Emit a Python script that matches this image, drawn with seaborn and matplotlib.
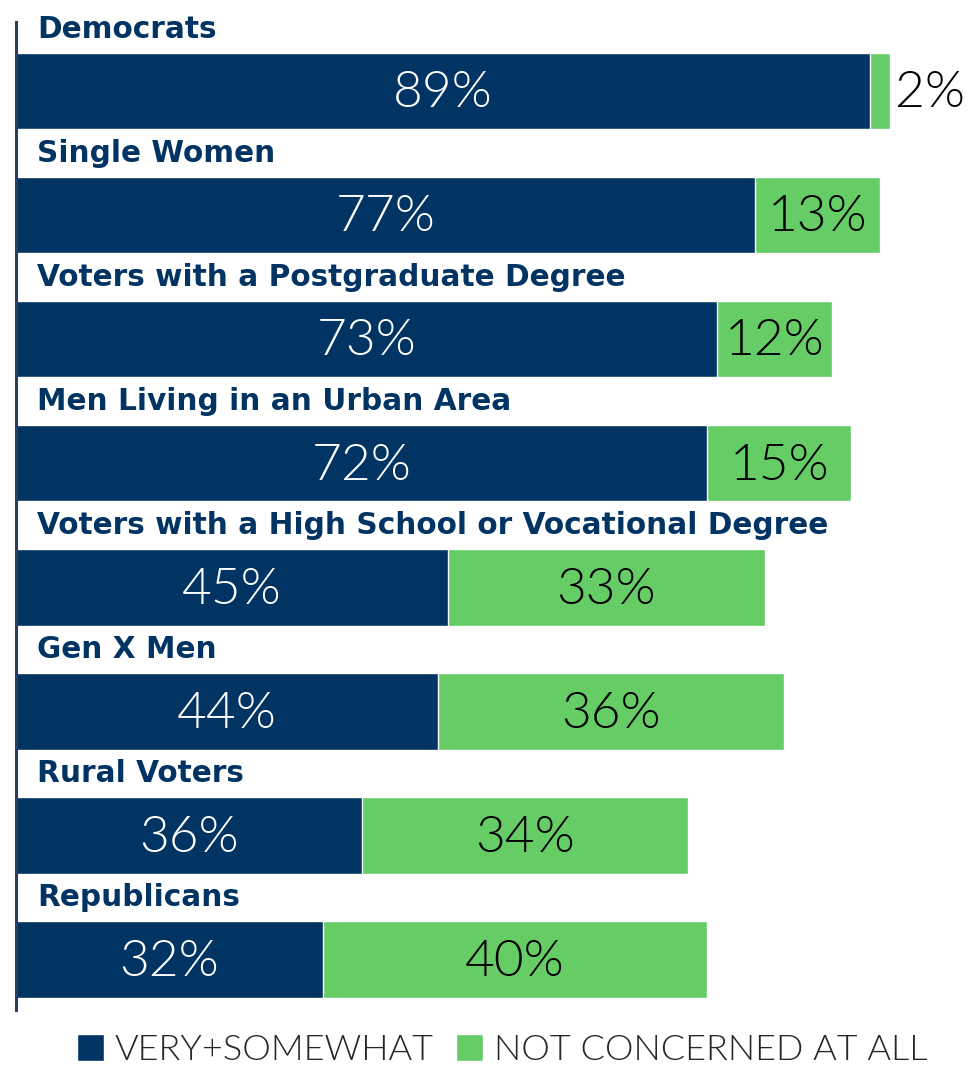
import matplotlib
matplotlib.use("Agg")
import matplotlib.pyplot as plt
import seaborn as sns
from matplotlib.patches import Patch

# ── data ────────────────────────────────────────────────────
groups = ["Democrats", "Single Women", "Voters with a Postgraduate Degree",
          "Men Living in an Urban Area",
          "Voters with a High School or Vocational Degree",
          "Gen X Men", "Rural Voters", "Republicans"]
very_somewhat = [89, 77, 73, 72, 45, 44, 36, 32]
not_concerned = [2, 13, 12, 15, 33, 36, 34, 40]
series_names = ["VERY+SOMEWHAT", "NOT CONCERNED AT ALL"]

NAVY = "#013462"
GREEN = "#66CC66"
FONT = "Lato"
VAL_WEIGHT = 300

sns.set_style("white")
plt.rcParams["font.family"] = [FONT, "DejaVu Sans"]

totals = [a + b for a, b in zip(very_somewhat, not_concerned)]

fig = plt.figure(figsize=(9.71, 10.65), dpi=100)
ax = fig.add_axes([16 / 971, 1 - 1010 / 1065, 1 - 16 / 971, (1010 - 22) / 1065])

# green = full stack, navy drawn over it
sns.barplot(x=totals, y=groups, color=GREEN, orient="h", width=0.62,
            saturation=1, errorbar=None, ax=ax)
sns.barplot(x=very_somewhat, y=groups, color=NAVY, orient="h", width=0.62,
            saturation=1, errorbar=None, ax=ax)

ax.set_xlim(0, 955 / 9.6)
ax.set_ylim(7.41, -0.556)
ax.set_xticks([])
ax.set_yticks([])
ax.set_xlabel("")
ax.set_ylabel("")
for s in ["top", "right", "bottom"]:
    ax.spines[s].set_visible(False)
ax.spines["left"].set_color("#2b3f5c")
ax.spines["left"].set_linewidth(2.2)

# labels
for i, g in enumerate(groups):
    ax.text(2.2, i - 0.425, g, ha="left", va="baseline", fontsize=21.3,
            fontweight="bold", color=NAVY, family="DejaVu Sans")
    v, n = very_somewhat[i], not_concerned[i]
    ax.text(v / 2, i + 0.02, f"{v}%", ha="center", va="center", fontsize=37,
            color="white", fontweight=VAL_WEIGHT)
    if n < 5:
        ax.text(v + n + 0.6, i + 0.02, f"{n}%", ha="left", va="center", fontsize=37,
                color="black", fontweight=VAL_WEIGHT)
    else:
        ax.text(v + n / 2, i + 0.02, f"{n}%", ha="center", va="center", fontsize=37,
                color="black", fontweight=VAL_WEIGHT)

handles = [Patch(facecolor=NAVY), Patch(facecolor=GREEN)]
fig.legend(handles, series_names, loc="center", bbox_to_anchor=(0.517, 1 - 1050 / 1065),
           ncol=2, frameon=False, handlelength=0.75, handleheight=0.75,
           handletextpad=0.3, columnspacing=0.6,
           prop={"weight": VAL_WEIGHT, "size": 26})

fig.savefig("out.png", dpi=100)
